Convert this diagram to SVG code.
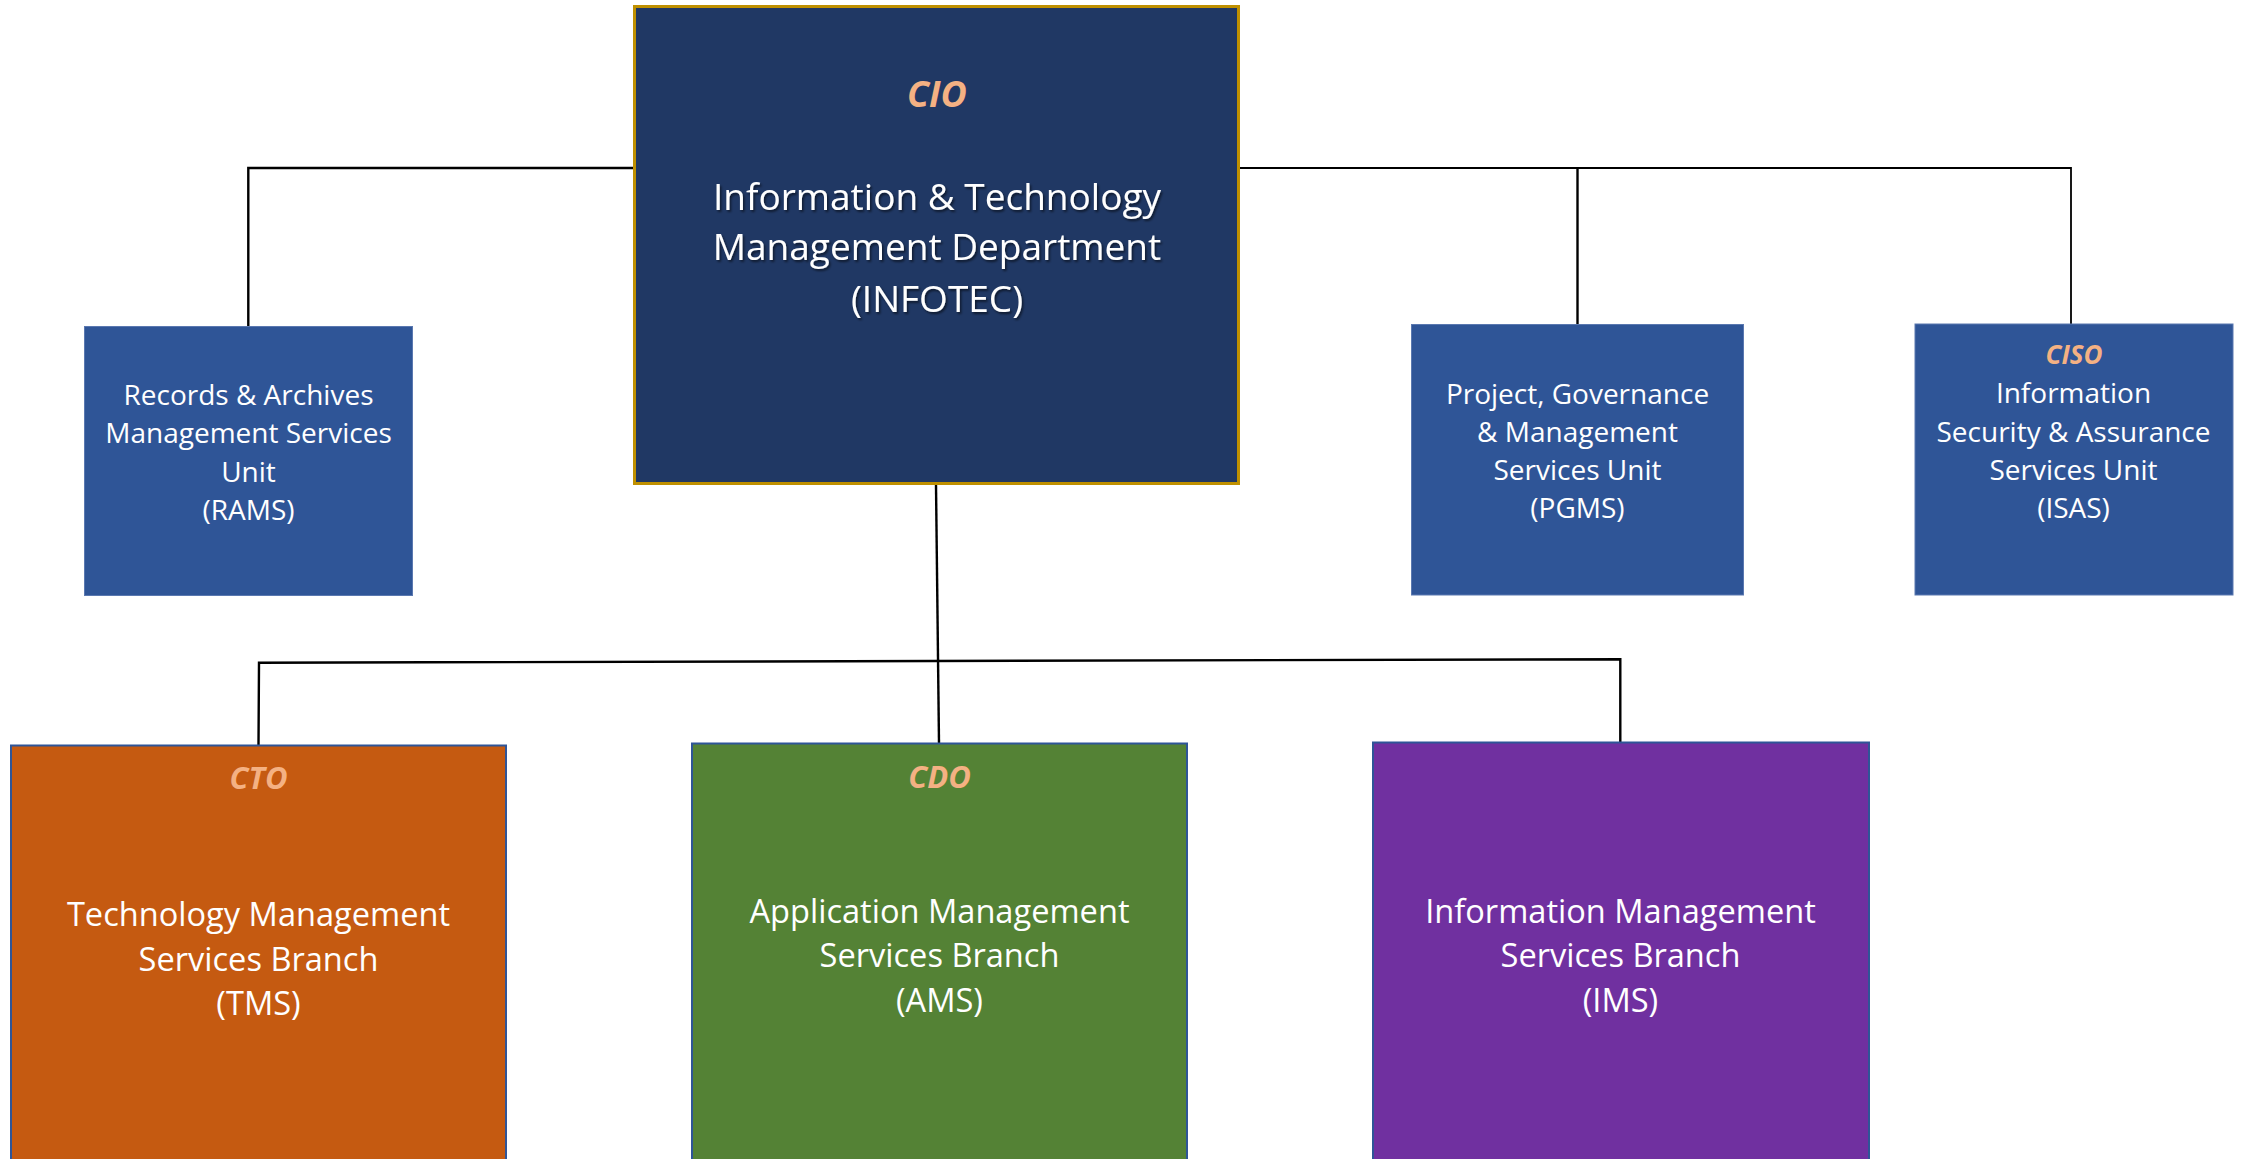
<svg xmlns="http://www.w3.org/2000/svg" width="2241" height="1159" viewBox="0 0 2241 1159">
<style>
  .t { font-family: "Open Sans", "Liberation Sans", sans-serif; fill: #FFFFFF; text-anchor: middle; }
  .big { font-size: 37px; }
  .mid { font-size: 32.6px; }
  .sm { font-size: 28px; }
  .role { font-family: "Open Sans", "Liberation Sans", sans-serif; font-weight: bold; font-style: italic; fill: #F4B183; text-anchor: middle; }
  .unit { fill: #2F5597; stroke: #5A78B0; stroke-width: 1; }
  .branch { stroke: #2F5597; stroke-width: 2; }
  .conn { fill: none; stroke: #000000; stroke-width: 2.4; }
</style>
<defs>
  <filter id="shadow" x="-10%" y="-10%" width="120%" height="130%">
    <feDropShadow dx="1.5" dy="2" stdDeviation="1" flood-color="#000000" flood-opacity="0.55"/>
  </filter>
</defs>
<rect width="2241" height="1159" fill="#FFFFFF"/>

<g id="connectors">
  <polyline class="conn" points="634,168 248.3,168 248.3,326"/>
  <polyline class="conn" style="stroke-width:1.8" points="1239,168 2071,168 2071,324"/>
  <line class="conn" x1="1577.5" y1="168" x2="1577.5" y2="324"/>
  <line class="conn" x1="936" y1="485" x2="939" y2="743"/>
  <polyline class="conn" points="258.5,745 259,662.7 1620.3,659.3 1620.3,742"/>
</g>

<g id="node-cio">
  <rect x="634.5" y="6.5" width="604" height="477" fill="#203864" stroke="#BF9000" stroke-width="3"/>
  <text class="role" x="937" y="107" font-size="36">CIO</text>
  <g filter="url(#shadow)">
    <text class="t big" x="937" y="210">Information &amp; Technology</text>
    <text class="t big" x="937" y="260">Management Department</text>
    <text class="t big" x="937" y="311.5">(INFOTEC)</text>
  </g>
</g>

<g id="node-rams">
  <rect class="unit" x="84.5" y="326.5" width="328" height="269"/>
  <text class="t sm" x="248.5" y="405">Records &amp; Archives</text>
  <text class="t sm" x="248.5" y="443.3">Management Services</text>
  <text class="t sm" x="248.5" y="481.7">Unit</text>
  <text class="t sm" x="248.5" y="520">(RAMS)</text>
</g>

<g id="node-pgms">
  <rect class="unit" x="1411.5" y="324.5" width="332" height="270.5"/>
  <text class="t sm" x="1577.5" y="404">Project, Governance</text>
  <text class="t sm" x="1577.5" y="441.7">&amp; Management</text>
  <text class="t sm" x="1577.5" y="480">Services Unit</text>
  <text class="t sm" x="1577.5" y="518.3">(PGMS)</text>
</g>

<g id="node-isas">
  <rect class="unit" x="1915" y="324" width="318" height="271"/>
  <text class="role" x="2074" y="364" font-size="26">CISO</text>
  <text class="t sm" x="2073.5" y="402.7">Information</text>
  <text class="t sm" x="2073.5" y="441.7">Security &amp; Assurance</text>
  <text class="t sm" x="2073.5" y="480">Services Unit</text>
  <text class="t sm" x="2073.5" y="518.3">(ISAS)</text>
</g>

<g id="node-tms">
  <rect class="branch" x="11" y="745.5" width="495" height="430" fill="#C55A11"/>
  <text class="role" x="258.5" y="789" font-size="31">CTO</text>
  <text class="t mid" x="258.5" y="925.5">Technology Management</text>
  <text class="t mid" x="258.5" y="970.5">Services Branch</text>
  <text class="t mid" x="258.5" y="1015">(TMS)</text>
</g>

<g id="node-ams">
  <rect class="branch" x="692" y="743.5" width="495" height="430" fill="#548235"/>
  <text class="role" x="939.5" y="787.7" font-size="31">CDO</text>
  <text class="t mid" x="939.5" y="923">Application Management</text>
  <text class="t mid" x="939.5" y="967">Services Branch</text>
  <text class="t mid" x="939.5" y="1012">(AMS)</text>
</g>

<g id="node-ims">
  <rect class="branch" x="1373" y="742.5" width="496" height="430" fill="#7030A0"/>
  <text class="t mid" x="1620.5" y="923">Information Management</text>
  <text class="t mid" x="1620.5" y="967">Services Branch</text>
  <text class="t mid" x="1620.5" y="1012">(IMS)</text>
</g>
</svg>
